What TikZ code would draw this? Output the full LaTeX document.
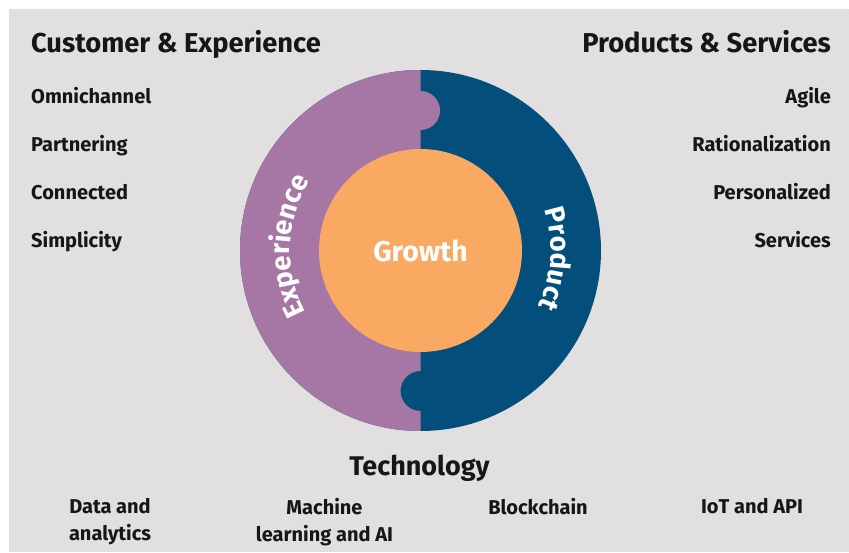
\documentclass[tikz,border=0pt]{standalone}
\usepackage{fontspec}
\setmainfont{Fira Sans}
\usepackage{tikz}
\usetikzlibrary{positioning, decorations.text}

\definecolor{bgGray}{HTML}{E1DFE0}
\definecolor{expPurple}{HTML}{A677A4}
\definecolor{prodBlue}{HTML}{044E7B}
\definecolor{growthOrange}{HTML}{F9A962}
\definecolor{inkBlack}{HTML}{161616}

\begin{document}
\begin{tikzpicture}[x=1pt, y=1pt,
    head/.style={font=\fontsize{27.3}{32}\selectfont\bfseries, text=inkBlack, inner sep=0pt},
    item/.style={font=\fontsize{20}{27}\selectfont\bfseries, text=inkBlack, inner sep=0pt, align=center},
    ring/.style={font=\fontsize{28.5}{30}\selectfont\bfseries, text=white, inner sep=0pt},
    arclabel/.style={decorate, decoration={text along path, text align=center, text color=white,
        text={|\fontsize{27.5}{30}\selectfont\bfseries|#1}}}]
    \useasboundingbox (0,0) rectangle (849,552);
    \fill[bgGray] (9,0) rectangle (849,543);

    % ring
    \coordinate (c) at (420.5,301.5);
    \fill[prodBlue] (c) circle[radius=180.5];
    \fill[expPurple] (c) ++(0,180.5)
        arc[start angle=90, end angle=270, radius=180.5]
        -- ++(0,20) arc[start angle=270, end angle=90, radius=20]
        -- (420.5,422) arc[start angle=270, end angle=450, radius=19.5]
        -- cycle;
    \fill[growthOrange] (c) circle[radius=101.5];

    \node[ring] (growth) at (c) {Growth}; % centre
    \path[arclabel=Experience] ([shift={(238:130.5)}]c) arc[start angle=238, end angle=118, radius=130.5]; % left half
    \path[arclabel=Product] ([shift={(51.4:130.5)}]c) arc[start angle=51.4, end angle=-58.6, radius=130.5]; % right half

    % left column
    \node[head, anchor=base west] (cust) at (31,499) {Customer \& Experience};
    \node[item, anchor=base west] (omni) at (31,448) {Omnichannel};
    \node[item, anchor=base west] (partner) at (31,400) {Partnering};
    \node[item, anchor=base west] (conn) at (31,352) {Connected};
    \node[item, anchor=base west] (simple) at (31,304) {Simplicity};

    % right column
    \node[head, anchor=base east] (prods) at (831,499) {Products \& Services};
    \node[item, anchor=base east] (agile) at (831,448) {Agile};
    \node[item, anchor=base east] (ration) at (831,400) {Rationalization};
    \node[item, anchor=base east] (person) at (831,352) {Personalized};
    \node[item, anchor=base east] (serv) at (831,304) {Services};

    % bottom row
    \node[head, font=\fontsize{27}{32}\selectfont\bfseries, anchor=base] (tech) at (419.5,77) {Technology};
    \node[item, anchor=north] (data) at (110,53.5) {Data and\\analytics};
    \node[item, anchor=north] (ml) at (324.5,53.5) {Machine\\learning and AI};
    \node[item, anchor=north] (block) at (538,53.5) {Blockchain};
    \node[item, anchor=north] (iot) at (752,53.5) {IoT and API};
\end{tikzpicture}
\end{document}
